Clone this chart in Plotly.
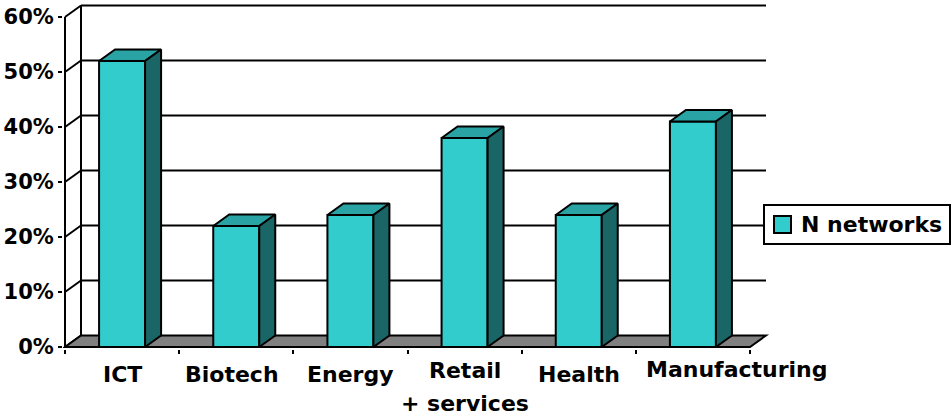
import plotly.graph_objects as go

# Share of firms in N networks, by sector
categories = ["ICT", "Biotech", "Energy", "Retail\n+ services", "Health", "Manufacturing"]
values = [52, 22, 24, 38, 24, 41]
tick_values = [0, 10, 20, 30, 40, 50, 60]
tick_labels = ["0%", "10%", "20%", "30%", "40%", "50%", "60%"]
series_name = "N networks"

FRONT = "#33CCCC"
TOP = "#29A3A3"
SIDE = "#1A6666"
FLOOR = "#808080"
INK = "black"
FONT = dict(family="DejaVu Sans", size=22, color=INK, weight="bold")

W, H = 952, 416
# plot-area pixel box
PL, PR, PT, PB = 63, 770, 2, 349
# data -> pixel scale
XPX = (750 - 65) / 6.0          # pixels per category
YPX = (347 - 17) / 60.0         # pixels per percent
DX = 16 / XPX                   # depth offset, x units
DY = 11.5 / YPX                 # depth offset, y units
BW = 46 / XPX                   # bar width

x0 = -0.5 - (65 - PL) / XPX
x1 = -0.5 + (PR - 65) / XPX
y0 = -(PB - 347) / YPX
y1 = (347 - PT) / YPX

n = len(categories)
xl, xr = -0.5, n - 0.5
ymax = tick_values[-1]

fig = go.Figure()


def wall_line(xa, ya, xb, yb):
    fig.add_shape(type="line", x0=xa, y0=ya, x1=xb, y1=yb, layer="below",
                  line=dict(color=INK, width=2))


def wall_poly(xs, ys, fill):
    path = "M " + " L ".join(f"{x},{y}" for x, y in zip(xs, ys)) + " Z"
    fig.add_shape(type="path", path=path, layer="below", fillcolor=fill,
                  line=dict(color=INK, width=2))


def face(xs, ys, fill):
    fig.add_trace(go.Scatter(
        x=xs + [xs[0]], y=ys + [ys[0]], mode="lines", fill="toself",
        fillcolor=fill, line=dict(color=INK, width=2),
        hoverinfo="skip", showlegend=False))


# back wall gridlines and side-wall diagonals
for v in tick_values:
    wall_line(xl, v, xl + DX, v + DY)
    if v > 0:
        wall_line(xl + DX, v + DY, xr + DX, v + DY)
wall_line(xl + DX, DY, xl + DX, ymax + DY)

# floor
wall_poly([xl, xr, xr + DX, xl + DX], [0, 0, DY, DY], FLOOR)

# front value axis
wall_line(xl, 0, xl, ymax)

# bar fronts
fig.add_trace(go.Bar(
    x=list(range(n)), y=values, width=BW, name=series_name,
    marker=dict(color=FRONT, line=dict(color=INK, width=2)),
    showlegend=False, hoverinfo="skip"))

# bar tops and sides
for i, v in enumerate(values):
    a, b = i - BW / 2, i + BW / 2
    face([a, b, b + DX, a + DX], [v, v, v + DY, v + DY], TOP)
    face([b, b + DX, b + DX, b], [0, DY, v + DY, v], SIDE)

# category labels
label_pos = {  # (x shift px, centre y px)
    0: (0, 374), 1: (-4, 374), 2: (0, 374), 4: (0, 374), 5: (44, 369),
}
for i, name in enumerate(categories):
    lines = name.split("\n")
    if len(lines) == 1:
        dx, cy = label_pos[i]
        fig.add_annotation(x=i, y=0, yref="paper", text=lines[0], showarrow=False,
                           xshift=dx, yshift=-(cy - PB), yanchor="middle",
                           font=FONT)
    else:
        for txt, cy in zip(lines, [370, 403]):
            fig.add_annotation(x=i, y=0, yref="paper", text=txt, showarrow=False,
                               yshift=-(cy - PB), yanchor="middle", font=FONT)


# legend box
def px_x(p):
    return (p - PL) / (PR - PL)


def px_y(p):
    return (PB - p) / (PB - PT)


fig.add_shape(type="rect", xref="paper", yref="paper",
              x0=px_x(764), x1=px_x(950), y0=px_y(244), y1=px_y(205),
              line=dict(color=INK, width=2), fillcolor="white")
fig.add_shape(type="rect", xref="paper", yref="paper",
              x0=px_x(774), x1=px_x(791), y0=px_y(233), y1=px_y(216),
              line=dict(color=INK, width=2), fillcolor=FRONT)
fig.add_annotation(x=px_x(799), y=px_y(225), xref="paper", yref="paper",
                   text=series_name, showarrow=False, xanchor="left",
                   yanchor="middle", font=FONT)

fig.update_layout(
    width=W, height=H,
    margin=dict(l=PL, r=W - PR, t=PT, b=H - PB, pad=0),
    paper_bgcolor="white", plot_bgcolor="white",
    showlegend=False, barmode="overlay",
    xaxis=dict(range=[x0, x1], showgrid=False, zeroline=False, showline=False,
               tickmode="array", tickvals=[k - 0.5 for k in range(n + 1)],
               showticklabels=False, ticks="outside", ticklen=4, tickwidth=2,
               tickcolor=INK, fixedrange=True),
    yaxis=dict(range=[y0, y1], showgrid=False, zeroline=False, showline=False,
               tickmode="array", tickvals=tick_values, ticktext=tick_labels,
               ticks="outside", ticklen=4, tickwidth=2, tickcolor=INK,
               tickfont=dict(family="DejaVu Sans", size=21, color=INK, weight="bold"),
               fixedrange=True),
)

fig.write_html("out.html")
